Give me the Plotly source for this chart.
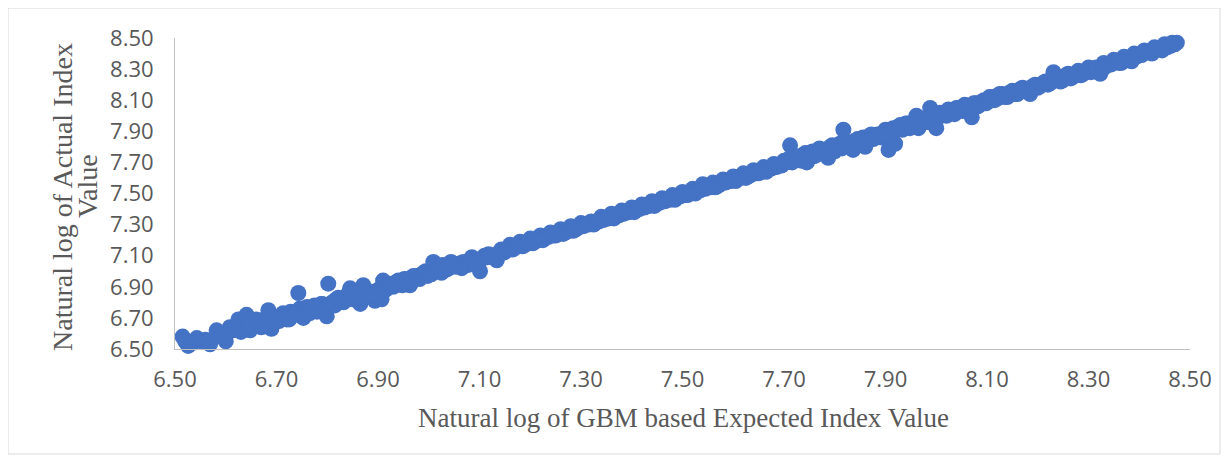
import plotly.graph_objects as go

# Lower region (wider scatter)
x_low = [6.515, 6.526, 6.543, 6.552, 6.569, 6.582, 6.600, 6.608, 6.615, 6.625, 6.633, 6.641, 6.648,
         6.655, 6.664, 6.672, 6.684, 6.690, 6.698, 6.706, 6.713, 6.720, 6.728, 6.735, 6.743, 6.746,
         6.753, 6.760, 6.768, 6.775, 6.782, 6.790, 6.799, 6.802, 6.810, 6.818, 6.826, 6.835, 6.845,
         6.855, 6.865, 6.871, 6.880, 6.894, 6.900, 6.907, 6.910, 6.918, 6.926, 6.935, 6.944, 6.952,
         6.963, 6.970, 6.978, 6.986, 6.994]
y_low = [6.58, 6.52, 6.57, 6.55, 6.53, 6.62, 6.55, 6.64, 6.62, 6.69, 6.65, 6.72, 6.62,
         6.66, 6.68, 6.67, 6.75, 6.63, 6.70, 6.71, 6.73, 6.69, 6.74, 6.72, 6.86, 6.76,
         6.70, 6.77, 6.75, 6.78, 6.77, 6.79, 6.71, 6.92, 6.80, 6.82, 6.81, 6.83, 6.89,
         6.84, 6.79, 6.91, 6.86, 6.81, 6.88, 6.82, 6.94, 6.90, 6.91, 6.93, 6.92, 6.95,
         6.91, 6.97, 6.96, 6.98, 7.00]
x_low2 = [6.520, 6.535, 6.560, 6.590, 6.620, 6.630, 6.645, 6.660, 6.670, 6.680,
          6.695, 6.705, 6.715, 6.725, 6.738, 6.750, 6.758, 6.765, 6.772, 6.780,
          6.788, 6.795, 6.806, 6.815, 6.822, 6.832, 6.840, 6.850, 6.860, 6.875,
          6.885, 6.890, 6.905, 6.915, 6.922, 6.930, 6.940, 6.948, 6.958, 6.966,
          6.975, 6.982, 6.990, 6.998]
y_low2 = [6.55, 6.54, 6.56, 6.58, 6.64, 6.61, 6.65, 6.69, 6.64, 6.70,
          6.68, 6.68, 6.71, 6.69, 6.73, 6.71, 6.74, 6.73, 6.76, 6.74,
          6.79, 6.76, 6.79, 6.78, 6.83, 6.80, 6.85, 6.82, 6.86, 6.84,
          6.87, 6.85, 6.89, 6.88, 6.92, 6.90, 6.94, 6.91, 6.95, 6.93,
          6.97, 6.95, 6.99, 6.97]

# Middle region (narrow band)
x_mid = [7.002, 7.009, 7.018, 7.027, 7.035, 7.044, 7.052, 7.060, 7.068, 7.077, 7.085, 7.094, 7.101,
         7.110, 7.118, 7.127, 7.134, 7.143, 7.152, 7.160, 7.170, 7.180, 7.190, 7.200, 7.210, 7.220,
         7.230, 7.240, 7.250, 7.260, 7.270, 7.280, 7.290, 7.300, 7.310, 7.320, 7.330, 7.340, 7.350,
         7.360, 7.370, 7.380, 7.390, 7.400, 7.410, 7.420, 7.430, 7.440, 7.450, 7.460, 7.470, 7.480,
         7.490, 7.500, 7.510, 7.520, 7.530, 7.540, 7.550, 7.560, 7.570, 7.580, 7.590, 7.600, 7.610,
         7.620, 7.630, 7.640, 7.650, 7.660, 7.670, 7.680, 7.690, 7.700]
y_mid = [6.99, 7.06, 7.02, 7.04, 7.01, 7.06, 7.03, 7.05, 7.06, 7.04, 7.09, 7.07, 7.00,
         7.10, 7.11, 7.09, 7.07, 7.14, 7.13, 7.17, 7.15, 7.19, 7.17, 7.21, 7.19, 7.23,
         7.22, 7.25, 7.23, 7.27, 7.25, 7.29, 7.27, 7.31, 7.30, 7.32, 7.32, 7.35, 7.34,
         7.37, 7.36, 7.39, 7.38, 7.41, 7.40, 7.43, 7.42, 7.45, 7.44, 7.47, 7.46, 7.49,
         7.48, 7.51, 7.49, 7.53, 7.52, 7.56, 7.54, 7.57, 7.55, 7.59, 7.58, 7.61, 7.60,
         7.63, 7.61, 7.65, 7.63, 7.67, 7.66, 7.69, 7.68, 7.71]
x_mid2 = [7.005, 7.015, 7.025, 7.040, 7.055, 7.065, 7.080, 7.090, 7.105, 7.115,
          7.125, 7.138, 7.148, 7.155, 7.165, 7.175, 7.185, 7.195, 7.205, 7.215,
          7.225, 7.235, 7.245, 7.255, 7.265, 7.275, 7.285, 7.295, 7.305, 7.315,
          7.325, 7.335, 7.345, 7.355, 7.365, 7.375, 7.385, 7.395, 7.405, 7.415,
          7.425, 7.435, 7.445, 7.455, 7.465, 7.475, 7.485, 7.495, 7.505, 7.515,
          7.525, 7.535, 7.545, 7.555, 7.565, 7.575, 7.585, 7.595, 7.605, 7.615,
          7.625, 7.635, 7.645, 7.655, 7.665, 7.675, 7.685, 7.695]
y_mid2 = [6.98, 7.00, 6.99, 7.02, 7.03, 7.02, 7.06, 7.05, 7.08, 7.09,
          7.10, 7.12, 7.12, 7.14, 7.14, 7.16, 7.16, 7.18, 7.18, 7.20,
          7.20, 7.22, 7.23, 7.24, 7.24, 7.26, 7.26, 7.28, 7.29, 7.30,
          7.30, 7.32, 7.33, 7.34, 7.34, 7.36, 7.37, 7.38, 7.38, 7.40,
          7.41, 7.42, 7.42, 7.44, 7.45, 7.46, 7.46, 7.48, 7.49, 7.50,
          7.50, 7.52, 7.53, 7.54, 7.54, 7.56, 7.57, 7.58, 7.58, 7.60,
          7.60, 7.62, 7.63, 7.64, 7.64, 7.66, 7.67, 7.68]

# Upper-middle region (with outliers)
x_up = [7.705, 7.712, 7.720, 7.730, 7.738, 7.745, 7.752, 7.760, 7.770, 7.778, 7.787, 7.795, 7.803,
        7.810, 7.817, 7.825, 7.836, 7.845, 7.852, 7.860, 7.868, 7.876, 7.884, 7.892, 7.900, 7.906,
        7.912, 7.919, 7.925, 7.933, 7.940, 7.948, 7.955, 7.961, 7.965, 7.972, 7.980, 7.988, 7.995,
        8.000, 8.008, 8.016, 8.024, 8.032, 8.040, 8.048, 8.056, 8.064, 8.070, 8.078, 8.086, 8.094]
y_up = [7.70, 7.81, 7.73, 7.72, 7.75, 7.70, 7.76, 7.74, 7.79, 7.77, 7.73, 7.81, 7.80,
        7.82, 7.91, 7.83, 7.78, 7.85, 7.84, 7.80, 7.87, 7.85, 7.88, 7.86, 7.91, 7.78,
        7.90, 7.82, 7.93, 7.91, 7.95, 7.92, 7.96, 8.00, 7.92, 7.97, 7.96, 8.05, 7.99,
        7.92, 8.02, 8.01, 8.04, 8.02, 8.05, 8.04, 8.07, 8.05, 7.99, 8.08, 8.07, 8.10]
x_up2 = [7.708, 7.716, 7.725, 7.735, 7.742, 7.748, 7.756, 7.765, 7.774, 7.782,
         7.791, 7.799, 7.807, 7.814, 7.821, 7.830, 7.840, 7.848, 7.856, 7.864,
         7.872, 7.880, 7.888, 7.896, 7.903, 7.915, 7.922, 7.929, 7.937, 7.944,
         7.952, 7.958, 7.968, 7.976, 7.984, 7.992, 8.004, 8.012, 8.020, 8.028,
         8.036, 8.044, 8.052, 8.060, 8.067, 8.074, 8.082, 8.090, 8.098]
y_up2 = [7.72, 7.70, 7.74, 7.71, 7.76, 7.73, 7.77, 7.75, 7.78, 7.76,
         7.80, 7.77, 7.81, 7.79, 7.83, 7.80, 7.84, 7.82, 7.86, 7.83,
         7.88, 7.86, 7.87, 7.89, 7.88, 7.92, 7.91, 7.94, 7.92, 7.95,
         7.93, 7.97, 7.95, 7.98, 7.96, 8.00, 7.99, 8.01, 8.00, 8.03,
         8.01, 8.05, 8.03, 8.06, 8.05, 8.08, 8.06, 8.09, 8.08]

# Top region
x_top = [8.102, 8.110, 8.120, 8.130, 8.140, 8.150, 8.160, 8.170, 8.180, 8.185, 8.195, 8.205, 8.215,
         8.225, 8.231, 8.240, 8.250, 8.260, 8.270, 8.280, 8.290, 8.300, 8.310, 8.323, 8.330, 8.340,
         8.350, 8.360, 8.370, 8.380, 8.390, 8.400, 8.410, 8.420, 8.430, 8.440, 8.450, 8.458, 8.465,
         8.470, 8.474]
y_top = [8.09, 8.12, 8.11, 8.14, 8.12, 8.16, 8.14, 8.18, 8.17, 8.14, 8.20, 8.19, 8.22,
         8.21, 8.28, 8.24, 8.23, 8.27, 8.25, 8.29, 8.27, 8.31, 8.30, 8.27, 8.34, 8.33,
         8.36, 8.34, 8.38, 8.37, 8.40, 8.39, 8.42, 8.41, 8.44, 8.43, 8.46, 8.45, 8.47,
         8.46, 8.47]
x_top2 = [8.105, 8.115, 8.125, 8.135, 8.145, 8.155, 8.165, 8.175, 8.190, 8.200,
          8.210, 8.220, 8.235, 8.245, 8.255, 8.265, 8.275, 8.285, 8.295, 8.305,
          8.315, 8.328, 8.335, 8.345, 8.355, 8.365, 8.375, 8.385, 8.395, 8.405,
          8.415, 8.425, 8.435, 8.445, 8.455, 8.462, 8.468]
y_top2 = [8.12, 8.10, 8.14, 8.12, 8.15, 8.14, 8.17, 8.16, 8.19, 8.18,
          8.21, 8.20, 8.23, 8.22, 8.26, 8.24, 8.27, 8.26, 8.29, 8.28,
          8.31, 8.30, 8.32, 8.33, 8.35, 8.34, 8.36, 8.35, 8.38, 8.39,
          8.41, 8.40, 8.43, 8.42, 8.44, 8.45, 8.46]

tick_vals = [6.5, 6.7, 6.9, 7.1, 7.3, 7.5, 7.7, 7.9, 8.1, 8.3, 8.5]
tick_text = ["6.50", "6.70", "6.90", "7.10", "7.30", "7.50", "7.70", "7.90", "8.10", "8.30", "8.50"]

x_all = x_low + x_low2 + x_mid + x_mid2 + x_up + x_up2 + x_top + x_top2
y_all = y_low + y_low2 + y_mid + y_mid2 + y_up + y_up2 + y_top + y_top2

# page is offset by the default 8px body margin
OFF = 8
W, H = 1229 - OFF, 461 - OFF
PL, PR, PT, PB = 175, 1190, 38, 349   # plot area in page pixels
L, T = PL - OFF, PT - OFF
R, B = W - (PR - OFF), H - (PB - OFF)
pw, ph = PR - PL, PB - PT

def px_x(p):
    return (p - PL) / pw

def px_y(p):
    return (PB - p) / ph

fig = go.Figure()
fig.add_trace(go.Scatter(
    x=x_all, y=y_all, mode="markers", cliponaxis=False,
    marker=dict(size=16, color="#4472C4", line=dict(width=0)),
    showlegend=False, hoverinfo="x+y",
))

axis_font = dict(family="Open Sans, Noto Sans, sans-serif", size=22, color="#595959")
fig.update_xaxes(range=[6.5, 8.5], tickvals=tick_vals, ticktext=tick_text,
                 showgrid=False, zeroline=False, showline=True, linecolor="#BFBFBF",
                 linewidth=1, ticks="", tickfont=axis_font, ticklabelstandoff=11)
fig.update_yaxes(range=[6.5, 8.5], tickvals=tick_vals, ticktext=tick_text,
                 showgrid=False, zeroline=False, showline=True, linecolor="#BFBFBF",
                 linewidth=1, ticks="", tickfont=axis_font, ticklabelstandoff=16)

fig.add_annotation(text="Natural log of GBM based Expected Index Value",
                   xref="paper", yref="paper", x=px_x(683), y=px_y(418),
                   xanchor="center", yanchor="middle", showarrow=False,
                   font=dict(family="Liberation Serif, Times New Roman, serif", size=27, color="#595959"))
yt_font = dict(family="Liberation Serif, Times New Roman, serif", size=28, color="#595959")
fig.add_annotation(text="Natural log of Actual Index",
                   xref="paper", yref="paper", x=px_x(62), y=px_y(197),
                   xanchor="center", yanchor="middle", showarrow=False, font=yt_font,
                   textangle=-90)
fig.add_annotation(text="Value",
                   xref="paper", yref="paper", x=px_x(87), y=px_y(186),
                   xanchor="center", yanchor="middle", showarrow=False, font=yt_font,
                   textangle=-90)

fig.add_shape(type="rect", xref="paper", yref="paper",
              x0=px_x(8), x1=px_x(1220), y0=px_y(454), y1=px_y(8),
              line=dict(color="#D9D9D9", width=1), fillcolor="rgba(0,0,0,0)", layer="below")

fig.update_layout(width=W, height=H, margin=dict(l=L, r=R, t=T, b=B),
                  paper_bgcolor="white", plot_bgcolor="white")

fig.write_html("out.html")
